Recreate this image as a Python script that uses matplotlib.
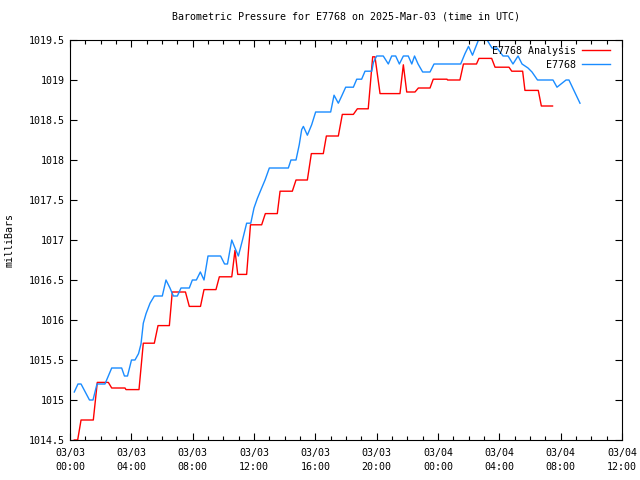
import matplotlib
matplotlib.use("Agg")
import matplotlib.pyplot as plt
from matplotlib.ticker import MultipleLocator

title = "Barometric Pressure for E7768 on 2025-Mar-03 (time in UTC)"
ylabel = "milliBars"

# hours since 2025-03-03 00:00 UTC
obs_hours = [0.28, 0.52, 0.72, 1.27, 1.50, 1.76, 2.28, 2.72, 3.37, 3.55, 3.75, 4.01,
             4.24, 4.47, 4.63, 4.78, 4.96, 5.22, 5.50, 6.02, 6.26, 6.52, 6.74, 7.00,
             7.24, 7.78, 7.98, 8.24, 8.50, 8.74, 9.00, 9.82, 10.08, 10.27, 10.55, 10.76,
             10.98, 11.25, 11.52, 11.79, 12.00, 12.22, 12.50, 12.72, 13.00, 14.24, 14.41,
             14.74, 14.95, 15.11, 15.22, 15.48, 15.76, 16.02, 17.00, 17.22, 17.50, 17.72,
             17.98, 18.48, 18.70, 19.02, 19.24, 19.68, 19.79, 20.00, 20.43, 20.76, 20.98,
             21.24, 21.48, 21.74, 22.06, 22.29, 22.47, 22.70, 23.00, 23.48, 23.74, 25.48,
             25.76, 25.99, 26.25, 26.64, 27.20, 27.52, 27.85, 28.24, 28.57, 28.89, 29.22,
             29.48, 29.87, 30.13, 30.49, 31.50, 31.76, 32.35, 32.54, 33.26]
obs_values = [1015.10, 1015.20, 1015.20, 1015.00, 1015.00, 1015.20, 1015.20, 1015.40,
              1015.40, 1015.30, 1015.30, 1015.50, 1015.50, 1015.58, 1015.70, 1015.96,
              1016.08, 1016.21, 1016.30, 1016.30, 1016.50, 1016.40, 1016.30, 1016.30,
              1016.40, 1016.40, 1016.50, 1016.50, 1016.60, 1016.50, 1016.80, 1016.80,
              1016.70, 1016.70, 1017.00, 1016.90, 1016.80, 1017.00, 1017.21, 1017.21,
              1017.40, 1017.52, 1017.65, 1017.75, 1017.90, 1017.90, 1018.00, 1018.00,
              1018.19, 1018.38, 1018.42, 1018.31, 1018.44, 1018.60, 1018.60, 1018.81,
              1018.71, 1018.80, 1018.91, 1018.91, 1019.01, 1019.01, 1019.11, 1019.11,
              1019.22, 1019.30, 1019.30, 1019.20, 1019.30, 1019.30, 1019.20, 1019.30,
              1019.30, 1019.20, 1019.30, 1019.20, 1019.10, 1019.10, 1019.20, 1019.20,
              1019.33, 1019.42, 1019.31, 1019.50, 1019.50, 1019.40, 1019.40, 1019.30,
              1019.30, 1019.20, 1019.30, 1019.20, 1019.15, 1019.10, 1019.00, 1019.00,
              1018.91, 1019.00, 1019.00, 1018.71]

ana_hours = [0.28, 0.50, 0.72, 1.52, 1.78, 2.50, 2.72, 3.59, 3.65, 4.50, 4.78, 5.50,
             5.74, 6.48, 6.67, 7.53, 7.78, 8.51, 8.74, 9.52, 9.74, 10.55, 10.76, 10.94,
             11.52, 11.77, 12.50, 12.74, 13.52, 13.70, 14.50, 14.74, 15.48, 15.74, 16.52,
             16.72, 17.50, 17.76, 18.48, 18.74, 19.45, 19.74, 19.89, 20.22, 21.52, 21.74,
             21.96, 22.50, 22.72, 23.48, 23.69, 24.59, 24.62, 25.43, 25.66, 26.51, 26.67,
             27.50, 27.72, 28.63, 28.81, 29.52, 29.67, 30.54, 30.74, 31.47]
ana_values = [1014.50, 1014.50, 1014.75, 1014.75, 1015.22, 1015.22, 1015.15, 1015.15,
              1015.13, 1015.13, 1015.71, 1015.71, 1015.93, 1015.93, 1016.35, 1016.35,
              1016.17, 1016.17, 1016.38, 1016.38, 1016.54, 1016.54, 1016.87, 1016.57,
              1016.57, 1017.19, 1017.19, 1017.33, 1017.33, 1017.61, 1017.61, 1017.75,
              1017.75, 1018.08, 1018.08, 1018.30, 1018.30, 1018.57, 1018.57, 1018.64,
              1018.64, 1019.29, 1019.29, 1018.83, 1018.83, 1019.19, 1018.85, 1018.85,
              1018.90, 1018.90, 1019.01, 1019.01, 1019.00, 1019.00, 1019.20, 1019.20,
              1019.27, 1019.27, 1019.16, 1019.16, 1019.11, 1019.11, 1018.87, 1018.87,
              1018.675, 1018.675]

xtick_hours = [0, 4, 8, 12, 16, 20, 24, 28, 32, 36]
xtick_labels = ["03/03\n00:00", "03/03\n04:00", "03/03\n08:00", "03/03\n12:00",
                "03/03\n16:00", "03/03\n20:00", "03/04\n00:00", "03/04\n04:00",
                "03/04\n08:00", "03/04\n12:00"]
ytick_values = [1014.5, 1015, 1015.5, 1016, 1016.5, 1017, 1017.5, 1018, 1018.5, 1019, 1019.5]

FS = 7.2
plt.rcParams['font.family'] = ['DejaVu Sans Mono']
fig = plt.figure(figsize=(6.4, 4.8), dpi=100)
ax = fig.add_axes([70/640, 40/480, 552/640, 400/480])

ax.plot(ana_hours, ana_values, color='#ff0000', lw=1.0, label='E7768 Analysis')
ax.plot(obs_hours, obs_values, color='#1a8cff', lw=1.0, label='E7768')

ax.set_xlim(0, 36)
ax.set_ylim(1014.5, 1019.5)
ax.set_xticks(xtick_hours)
ax.set_xticklabels(xtick_labels, fontsize=FS, linespacing=1.45)
ax.xaxis.set_minor_locator(MultipleLocator(1))
ax.set_yticks(ytick_values)
ax.set_yticklabels([f"{v:g}" for v in ytick_values], fontsize=FS)
ax.tick_params(axis='both', which='both', direction='in', top=True, right=True, width=0.8)
ax.tick_params(axis='both', which='major', length=5)
ax.tick_params(axis='x', which='major', pad=6)
ax.tick_params(axis='y', which='major', pad=4)
ax.tick_params(axis='x', which='minor', length=3)
for s in ax.spines.values():
    s.set_linewidth(0.8)

ax.set_title(title, fontsize=FS, pad=15)
fig.text(10/640, 1 - 240/480, ylabel, rotation=90, fontsize=FS, ha='center', va='center')

leg = ax.legend(loc='upper right', frameon=False, markerfirst=False, fontsize=FS,
                handlelength=2.8, handletextpad=0.6, labelspacing=0.4,
                borderaxespad=0.0, bbox_to_anchor=(0.985, 0.995))
for t in leg.get_texts():
    t.set_ha('right')

fig.savefig('out.png', dpi=100)
